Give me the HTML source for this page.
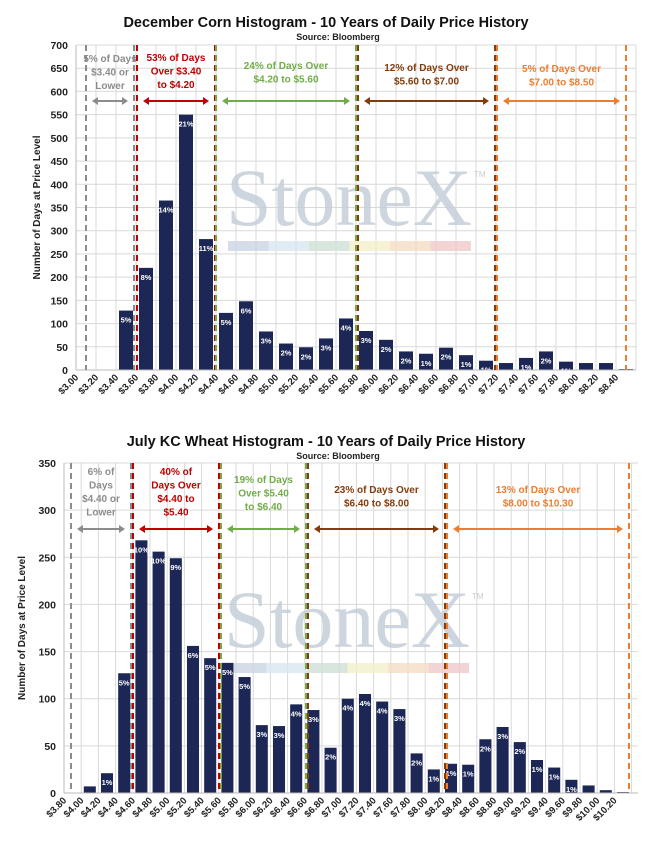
<!DOCTYPE html>
<html><head><meta charset="utf-8"><style>
body{margin:0;background:#fff;width:653px;height:845px;overflow:hidden}
svg{display:block;font-family:"Liberation Sans",sans-serif}
</style></head><body>
<svg id="s" width="653" height="845" xmlns="http://www.w3.org/2000/svg"></svg>
<script>
var S=document.getElementById('s'),h='';
function chart(o){
 var x0=o.x0,dx=o.dx,y0=o.y0,sc=o.sc,top=o.top,right=o.right;
 h+='<text x="'+o.tx+'" y="'+o.ty+'" font-size="14.5" font-weight="bold" text-anchor="middle" fill="#111">'+o.title+'</text>';
 h+='<text x="'+(o.tx+12)+'" y="'+(o.ty+13)+'" font-size="9" font-weight="bold" text-anchor="middle" fill="#222">Source: Bloomberg</text>';
 for(var v=0;v<=o.ymax;v+=50){var y=y0-v*sc;h+='<line x1="'+x0+'" x2="'+right+'" y1="'+y+'" y2="'+y+'" stroke="#d9d9d9"/>';
  h+='<text x="'+(x0-8)+'" y="'+(y+4)+'" font-size="10.5" font-weight="bold" text-anchor="end" fill="#222">'+v+'</text>';}
 for(var x=x0;x<=right+0.5;x+=dx)h+='<line x1="'+x+'" x2="'+x+'" y1="'+top+'" y2="'+y0+'" stroke="#d9d9d9"/>';
 h+='<line x1="'+x0+'" x2="'+x0+'" y1="'+top+'" y2="'+y0+'" stroke="#bbb"/>';
 h+='<text x="'+o.wx+'" y="'+o.wy+'" font-family="Liberation Serif,serif" font-size="82" fill="#c5ced9" opacity="0.85">StoneX</text>';
 h+='<text x="'+(o.wx+248)+'" y="'+(o.wy-48)+'" font-size="8" fill="#ccc">TM</text>';
 var cols=['#c9d5e2','#d8e6f0','#cfe0d4','#f3efcc','#f4dcc4','#efc9ca'];
 for(var i=0;i<6;i++)h+='<rect x="'+(o.wx+2+i*40.5)+'" y="'+(o.wy+16)+'" width="40.5" height="10" fill="'+cols[i]+'" opacity="0.8"/>';
 var bw=dx*0.7;
 o.bars.forEach(function(b,i){var bx=x0+i*dx+(dx-bw)/2,bh=b[0]*sc;
  h+='<rect x="'+bx+'" y="'+(y0-bh)+'" width="'+bw+'" height="'+bh+'" fill="#1c2756"/>';
  if(b[1])h+='<text x="'+(bx+bw/2)+'" y="'+(y0-bh+12)+'" font-size="7.5" font-weight="bold" text-anchor="middle" fill="#fff">'+b[1]+'</text>';});
 h+='<line x1="'+x0+'" x2="'+right+'" y1="'+y0+'" y2="'+y0+'" stroke="#bbb"/>';
 o.xl.forEach(function(t,i){var x=x0+i*dx+3;h+='<text transform="translate('+x+','+(y0+8)+') rotate(-45)" font-size="9.5" font-weight="bold" text-anchor="end" fill="#222">'+t+'</text>';});
 h+='<text transform="translate('+o.ylx+','+((top+y0)/2)+') rotate(-90)" font-size="10" font-weight="bold" text-anchor="middle" fill="#222">Number of Days at Price Level</text>';
 o.reg.forEach(function(r){
  [r[0],r[1]].forEach(function(x){h+='<line x1="'+x+'" x2="'+x+'" y1="'+top+'" y2="'+y0+'" stroke="'+r[2]+'" stroke-width="2" stroke-dasharray="6,4"/>';});
  var ay=o.ay,a1=r[0]+6,a2=r[1]-6;
  h+='<line x1="'+(a1+4)+'" x2="'+(a2-4)+'" y1="'+ay+'" y2="'+ay+'" stroke="'+r[2]+'" stroke-width="2"/>';
  h+='<path d="M'+a1+' '+ay+'l6 -4v8z M'+a2+' '+ay+'l-6 -4v8z" fill="'+r[2]+'"/>';
  var cx=(r[0]+r[1])/2;
  r[3].forEach(function(t,j){h+='<text x="'+cx+'" y="'+(r[4]+j*13.5)+'" font-size="10" font-weight="bold" text-anchor="middle" fill="'+r[2]+'">'+t+'</text>';});
 });
}
chart({x0:76,dx:20,y0:370,sc:325/700,top:45,right:636,ymax:700,tx:326,ty:27,wx:226,wy:225,ay:101,ylx:40,
 title:'December Corn Histogram - 10 Years of Daily Price History',
 bars:[[1],[1],[128,'5%'],[220,'8%'],[365,'14%'],[550,'21%'],[282,'11%'],[123,'5%'],[148,'6%'],[83,'3%'],[57,'2%'],[49,'2%'],[68,'3%'],[111,'4%'],[84,'3%'],[65,'2%'],[40,'2%'],[35,'1%'],[48,'2%'],[32,'1%'],[20,'1%'],[15],[26,'1%'],[40,'2%'],[18,'1%'],[15],[15],[2]],
 xl:['$3.00','$3.20','$3.40','$3.60','$3.80','$4.00','$4.20','$4.40','$4.60','$4.80','$5.00','$5.20','$5.40','$5.60','$5.80','$6.00','$6.20','$6.40','$6.60','$6.80','$7.00','$7.20','$7.40','$7.60','$7.80','$8.00','$8.20','$8.40'],
 reg:[[86,134,'#8c8c8c',['5% of Days','$3.40 or','Lower'],62],[137,215,'#c00000',['53% of Days','Over $3.40','to $4.20'],61],[216,356,'#70ad47',['24% of Days Over','$4.20 to $5.60'],69],[358,495,'#843c0c',['12% of Days Over','$5.60 to $7.00'],71],[497,626,'#ed7d31',['5% of Days Over','$7.00 to $8.50'],72]]});
chart({x0:64,dx:17.2,y0:793,sc:330/350,top:463,right:638,ymax:350,tx:326,ty:446,wx:224,wy:647,ay:529,ylx:25,
 title:'July KC Wheat Histogram - 10 Years of Daily Price History',
 bars:[[0],[7],[21,'1%'],[127,'5%'],[268,'10%'],[256,'10%'],[249,'9%'],[156,'6%'],[143,'5%'],[138,'5%'],[123,'5%'],[72,'3%'],[71,'3%'],[94,'4%'],[88,'3%'],[48,'2%'],[100,'4%'],[105,'4%'],[97,'4%'],[89,'3%'],[42,'2%'],[25,'1%'],[31,'1%'],[30,'1%'],[57,'2%'],[70,'3%'],[54,'2%'],[35,'1%'],[27,'1%'],[14,'1%'],[8],[3],[1]],
 xl:['$3.80','$4.00','$4.20','$4.40','$4.60','$4.80','$5.00','$5.20','$5.40','$5.60','$5.80','$6.00','$6.20','$6.40','$6.60','$6.80','$7.00','$7.20','$7.40','$7.60','$7.80','$8.00','$8.20','$8.40','$8.60','$8.80','$9.00','$9.20','$9.40','$9.60','$9.80','$10.00','$10.20'],
 reg:[[71,131,'#8c8c8c',['6% of','Days','$4.40 or','Lower'],475],[133,219,'#c00000',['40% of','Days Over','$4.40 to','$5.40'],475],[221,306,'#70ad47',['19% of Days','Over $5.40','to $6.40'],483],[308,445,'#843c0c',['23% of Days Over','$6.40 to $8.00'],493],[447,629,'#ed7d31',['13% of Days Over','$8.00 to $10.30'],493]]});
S.innerHTML=h;
</script>
</body></html>
